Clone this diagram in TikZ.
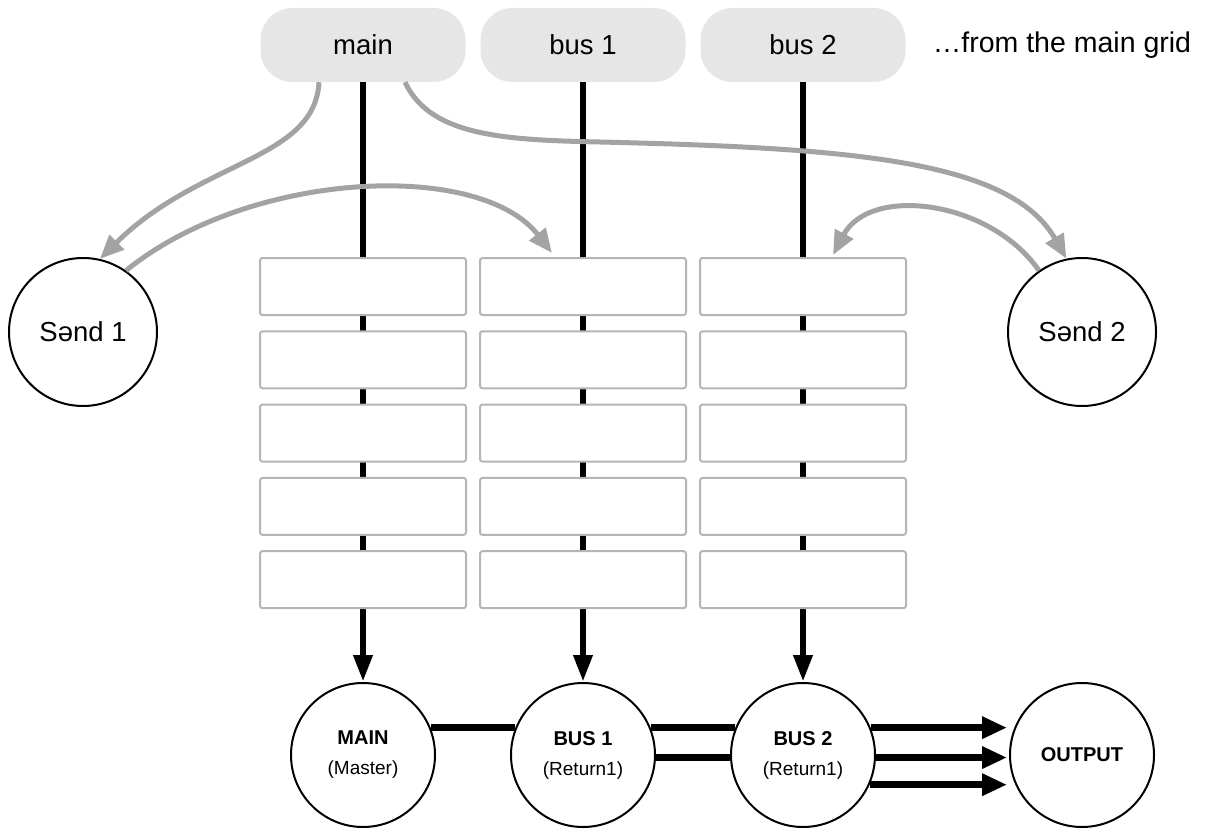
\documentclass[tikz,border=0pt]{standalone}
\usepackage{fontspec}
\setmainfont{Liberation Sans}
\usetikzlibrary{arrows.meta}
\definecolor{pillgray}{HTML}{E6E6E6}
\definecolor{arrowgray}{HTML}{A3A3A3}
\definecolor{cellgray}{HTML}{B5B5B5}
\begin{document}
\begin{tikzpicture}[x=1pt,y=-1pt,
  pill/.style={fill=pillgray, rounded corners=32pt, minimum width=205pt, minimum height=74pt, inner sep=0pt, font=\fontsize{27.5}{32}\selectfont},
  cell/.style={draw=cellgray, line width=2pt, fill=white, rounded corners=2.5pt, minimum width=206pt, minimum height=57pt, inner sep=0pt},
  ring/.style={circle, draw=black, line width=2pt, fill=white, inner sep=0pt, align=center},
  sendring/.style={ring, minimum size=148pt, font=\fontsize{27.5}{32}\selectfont},
  busring/.style={ring, minimum size=144pt, font=\fontsize{20}{30}\selectfont},
  busline/.style={line width=6.5pt, -{Triangle[length=27pt,width=18pt]}},
  link/.style={line width=7.5pt},
  feed/.style={line width=7.5pt, -{Triangle[length=25pt,width=21pt]}, shorten >=2pt},
  sendarrow/.style={draw=arrowgray, line width=5pt, -{Triangle[length=24pt,width=20pt]}}
]
\useasboundingbox (0,0) rectangle (1215,832);

% top pills
\node[pill] (pmain) at (363,45) {main};
\node[pill] (pbus1) at (583,45) {bus 1};
\node[pill] (pbus2) at (803,45) {bus 2};
\node[font=\fontsize{28.5}{32}\selectfont] (note) at (1062,45) {…from the main grid};

% send circles
\node[sendring] (send1) at (83,332) {Sənd 1};
\node[sendring] (send2) at (1082,332) {Sənd 2};

% bottom circles
\node[busring] (cmain) at (363,755) {\textbf{MAIN}\\{\fontsize{19}{30}\selectfont (Master)}};
\node[busring] (cbus1) at (583,755) {\textbf{BUS 1}\\{\fontsize{19}{30}\selectfont (Return1)}};
\node[busring] (cbus2) at (803,755) {\textbf{BUS 2}\\{\fontsize{19}{30}\selectfont (Return1)}};
\node[busring, font=\fontsize{20}{30}\selectfont\bfseries] (cout) at (1082,755) {OUTPUT};

% vertical bus lines
\draw[busline] (pmain) -- (cmain);
\draw[busline] (pbus1) -- (cbus1);
\draw[busline] (pbus2) -- (cbus2);

% cells
\foreach \c/\x in {1/363,2/583,3/803}{
  \foreach \r in {1,...,5}{
    \node[cell] (b\c\r) at (\x,213.2+73.3*\r) {};
  }
}

% horizontal links
\draw[link] (cmain.22) -- (cbus1.158);
\draw[link] (cbus1.22) -- (cbus2.158);
\draw[link] (cbus1.-2.4) -- (cbus2.182.4);
\draw[feed] (cbus2.22) -- (cbus2.22 -| cout.west);
\draw[feed] (cbus2.-2.4) -- (cbus2.-2.4 -| cout.west);
\draw[feed] (cbus2.-24.6) -- (cbus2.-24.6 -| cout.west);

% gray send curves
\coordinate (t1) at (552,253);
\coordinate (t2) at (833,255);
\draw[sendarrow] ([xshift=-44pt]pmain.south) .. controls (315,160) and (200,160) .. (send1.77);
\draw[sendarrow] (send1.55) .. controls (250,170) and (480,160) .. (t1);
\draw[sendarrow] ([xshift=42pt]pmain.south) .. controls (430,135) and (500,140) .. (600,142) .. controls (850,148) and (1010,160) .. (send2.102);
\draw[sendarrow] (send2.125) .. controls (990,200) and (870,185) .. (t2);
\end{tikzpicture}
\end{document}
